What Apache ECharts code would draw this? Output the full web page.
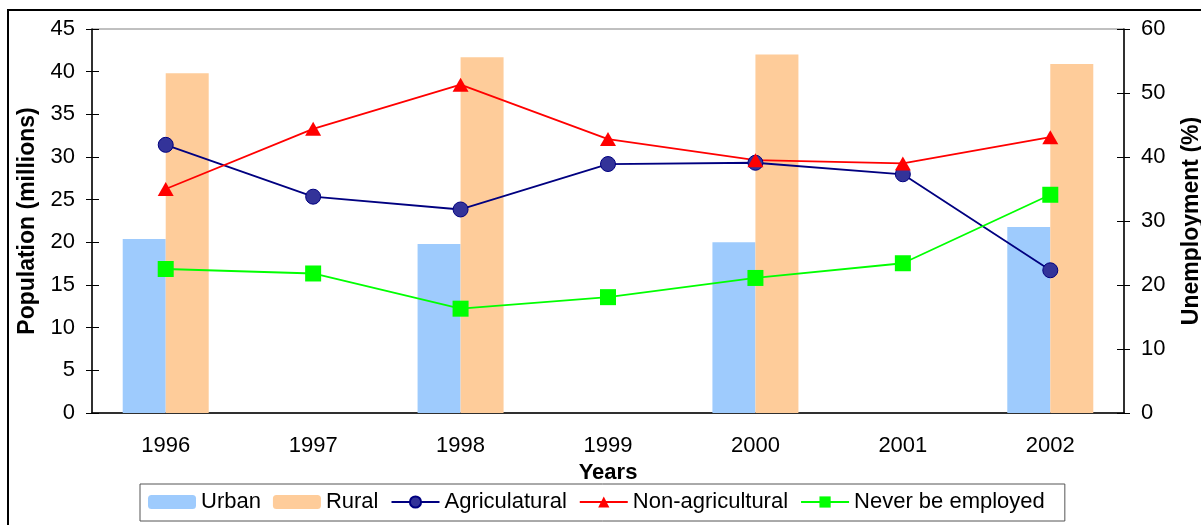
<!DOCTYPE html>
<html>
<head>
<meta charset="utf-8">
<script src="https://cdn.jsdelivr.net/npm/echarts@6/dist/echarts.min.js"></script>
<style>
  html, body { margin: 0; padding: 0; background: #fff; }
  #chart { width: 1201px; height: 525px; }
</style>
</head>
<body>
<div id="chart"></div>
<script>
const years = ['1996', '1997', '1998', '1999', '2000', '2001', '2002'];
// population, millions (left axis)
const urban = [20.4, null, 19.8, null, 20.0, null, 21.8];
const rural = [39.8, null, 41.7, null, 42.0, null, 40.9];
// unemployment, % (right axis)
const agricultural = [41.9, 33.8, 31.8, 38.9, 39.1, 37.3, 22.3];
const nonAgricultural = [35.0, 44.4, 51.3, 42.8, 39.5, 39.0, 43.1];
const neverEmployed = [22.5, 21.8, 16.3, 18.1, 21.1, 23.4, 34.1];
const leftMax = 45, leftStep = 5;
const rightMax = 60, rightStep = 10;

const font = 'Liberation Sans, Arial, sans-serif';
const chart = echarts.init(document.getElementById('chart'));

function yAx(pos, max, step, name, gap, inside) {
    if (inside) {
        return {
            type: 'value', position: pos, min: 0, max: max, interval: step,
            axisLine: { show: false }, splitLine: { show: false },
            axisLabel: { show: false },
            axisTick: { show: true, inside: true, length: 7, lineStyle: { color: '#000' } }
        };
    }
    return {
        type: 'value', position: pos, min: 0, max: max, interval: step,
        name: name, nameLocation: 'middle', nameGap: gap, nameRotate: 90,
        nameTextStyle: { fontFamily: font, fontSize: 23, fontWeight: 'bold', color: '#000' },
        axisLine: { show: true, lineStyle: { color: '#000', width: 1.5 } },
        axisTick: { show: true, length: 6, lineStyle: { color: '#000' } },
        splitLine: { show: false },
        axisLabel: { color: '#000', fontSize: 22, fontFamily: font, margin: 17 }
    };
}

const option = {
    animation: false,
    textStyle: { fontFamily: font },
    graphic: [{
        type: 'rect', z: -10,
        shape: { x: 8, y: 10, width: 1210, height: 530 },
        style: { fill: 'none', stroke: '#000', lineWidth: 2 }
    }],
    grid: {
        left: 92, right: 77, top: 29, bottom: 112,
        outerBoundsMode: 'none', containLabel: false,
        show: true, borderColor: '#808080', borderWidth: 1
    },
    legend: {
        left: 140, top: 484,
        padding: [7, 20, 8, 8],
        borderColor: '#555', borderWidth: 1, backgroundColor: '#fff',
        itemWidth: 48, itemHeight: 14, itemGap: 12,
        textStyle: { fontSize: 22, color: '#000', fontFamily: font },
        data: ['Urban', 'Rural', 'Agriculatural', 'Non-agricultural', 'Never be employed']
    },
    xAxis: [{
        type: 'category', data: years, position: 'bottom',
        name: 'Years', nameLocation: 'middle', nameGap: 44,
        nameTextStyle: { fontFamily: font, fontSize: 22, fontWeight: 'bold', color: '#000' },
        axisLine: { lineStyle: { color: '#000', width: 1.5 } },
        axisTick: { length: 7, lineStyle: { color: '#000' } },
        axisLabel: { color: '#000', fontSize: 22, fontFamily: font, margin: 22 }
    }, {
        type: 'category', data: years, position: 'bottom',
        axisLine: { show: false }, axisLabel: { show: false },
        axisTick: { inside: true, length: 7, lineStyle: { color: '#000' } }
    }],
    yAxis: [
        yAx('left', leftMax, leftStep, 'Population (millions)', 52, false),
        yAx('right', rightMax, rightStep, 'Unemployment (%)', 56, false),
        yAx('left', leftMax, leftStep, '', 0, true),
        yAx('right', rightMax, rightStep, '', 0, true)
    ],
    series: [
        { name: 'Urban', type: 'bar', yAxisIndex: 0, data: urban, barWidth: 43, barGap: '0%',
          itemStyle: { color: '#9ECBFD' } },
        { name: 'Rural', type: 'bar', yAxisIndex: 0, data: rural, barWidth: 43, barGap: '0%',
          itemStyle: { color: '#FECC9A' } },
        { name: 'Agriculatural', type: 'line', yAxisIndex: 1, data: agricultural,
          symbol: 'circle', symbolSize: 15,
          lineStyle: { color: '#000080', width: 1.8 },
          itemStyle: { color: '#333399', borderColor: '#000080', borderWidth: 1 } },
        { name: 'Non-agricultural', type: 'line', yAxisIndex: 1, data: nonAgricultural,
          symbol: 'triangle', symbolSize: [16, 14],
          lineStyle: { color: '#FF0000', width: 1.8 },
          itemStyle: { color: '#FF0000' } },
        { name: 'Never be employed', type: 'line', yAxisIndex: 1, data: neverEmployed,
          symbol: 'rect', symbolSize: 16,
          lineStyle: { color: '#00FF00', width: 1.8 },
          itemStyle: { color: '#00FF00' } }
    ]
};
chart.setOption(option);
</script>
</body>
</html>
